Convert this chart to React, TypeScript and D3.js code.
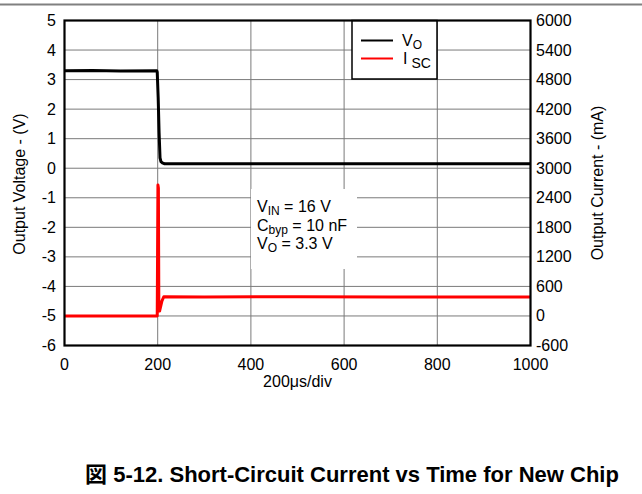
import React from "react";
import * as d3 from "d3";

const xTicks = [0, 200, 400, 600, 800, 1000];
const yLeftTicks = [5, 4, 3, 2, 1, 0, -1, -2, -3, -4, -5, -6];
const yRightTicks = [6000, 5400, 4800, 4200, 3600, 3000, 2400, 1800, 1200, 600, 0, -600];

// V_O (V) vs time (µs)
const voTime = [0, 60, 120, 198, 199, 201, 203, 205, 207, 210, 215, 300, 500, 700, 1000];
const voValue = [3.3, 3.31, 3.29, 3.3, 3.25, 2.4, 1.2, 0.35, 0.22, 0.18, 0.15, 0.15, 0.15, 0.15, 0.15];

// I_SC (mA) vs time (µs)
const iscTime = [0, 199, 200.5, 201.5, 202.5, 204, 209, 213, 300, 500, 700, 1000];
const iscValue = [0, 0, 2660, 2600, 120, 100, 300, 390, 385, 390, 385, 385];

const W = 642;
const H = 494;
const left = 64.5;
const right = 530.5;
const top = 20.5;
const bottom = 345.5;

const font = "'Liberation Sans', Arial, sans-serif";
const fs = 16;

export default function App() {
  const x = d3.scaleLinear().domain([0, 1000]).range([left, right]);
  const yL = d3.scaleLinear().domain([-6, 5]).range([bottom, top]);
  const yR = d3.scaleLinear().domain([-600, 6000]).range([bottom, top]);

  const voLine = d3
    .line<number>()
    .x((_, i) => x(voTime[i]))
    .y((d) => yL(d))(voValue) as string;
  const iscLine = d3
    .line<number>()
    .x((_, i) => x(iscTime[i]))
    .y((d) => yR(d))(iscValue) as string;

  return (
    <svg
      width={W}
      height={H}
      style={{ position: "absolute", left: 0, top: 0, background: "#fff" }}
      fontFamily={font}
    >
      <rect x={0} y={0} width={W} height={H} fill="#fff" />
      <line x1={0} x2={W} y1={4.5} y2={4.5} stroke="#808080" strokeWidth={2} />

      {/* grid */}
      {yLeftTicks.map((t) => (
        <line key={"gy" + t} x1={left} x2={right} y1={yL(t)} y2={yL(t)} stroke="#7a7a7a" strokeWidth={1} />
      ))}
      {xTicks.map((t) => (
        <line key={"gx" + t} x1={x(t)} x2={x(t)} y1={top} y2={bottom} stroke="#7a7a7a" strokeWidth={1} />
      ))}

      {/* data */}
      <path d={voLine} fill="none" stroke="#000" strokeWidth={3} strokeLinejoin="round" />
      <path d={iscLine} fill="none" stroke="#ff0000" strokeWidth={3} strokeLinejoin="round" />

      {/* annotation box */}
      <rect x={251} y={189} width={106} height={80} fill="#fff" />
      <text x={257} y={212} fontSize={fs} fill="#000">
        V<tspan fontSize={12} dy={3}>IN</tspan>
        <tspan dy={-3}> = 16 V</tspan>
      </text>
      <text x={257} y={230.5} fontSize={fs} fill="#000">
        C<tspan fontSize={12} dy={3}>byp</tspan>
        <tspan dy={-3}> = 10 nF</tspan>
      </text>
      <text x={257} y={249} fontSize={fs} fill="#000">
        V<tspan fontSize={12} dy={3}>O</tspan>
        <tspan dy={-3}> = 3.3 V</tspan>
      </text>

      {/* legend */}
      <rect x={352} y={top} width={85} height={58.5} fill="#fff" stroke="#000" strokeWidth={1.5} />
      <line x1={361} x2={393} y1={40.5} y2={40.5} stroke="#000" strokeWidth={2} />
      <line x1={361} x2={393} y1={58.5} y2={58.5} stroke="#ff0000" strokeWidth={2} />
      <text x={402} y={46} fontSize={fs} fill="#000">
        V<tspan fontSize={12} dy={3}>O</tspan>
      </text>
      <text x={403} y={64} fontSize={fs} fill="#000">
        I<tspan fontSize={14} dx={4} dy={3.5}>SC</tspan>
      </text>

      {/* frame */}
      <rect x={left} y={top} width={right - left} height={bottom - top} fill="none" stroke="#000" strokeWidth={2.2} />

      {/* left ticks */}
      {yLeftTicks.map((t) => (
        <text key={"yl" + t} x={56} y={yL(t) + 5.5} fontSize={fs} textAnchor="end" fill="#000">
          {t}
        </text>
      ))}
      {/* right ticks */}
      {yRightTicks.map((t) => (
        <text key={"yr" + t} x={536} y={yR(t) + 5.5} fontSize={fs} textAnchor="start" fill="#000">
          {t}
        </text>
      ))}
      {/* x ticks */}
      {xTicks.map((t) => (
        <text key={"xt" + t} x={x(t)} y={370} fontSize={fs} textAnchor="middle" fill="#000">
          {t}
        </text>
      ))}

      <text x={(left + right) / 2} y={387} fontSize={fs} textAnchor="middle" fill="#000">
        200μs/div
      </text>
      <text
        transform={`translate(25, ${(top + bottom) / 2 + 1}) rotate(-90)`}
        fontSize={fs}
        textAnchor="middle"
        fill="#000"
      >
        Output Voltage - (V)
      </text>
      <text
        transform={`translate(603, ${(top + bottom) / 2}) rotate(-90)`}
        fontSize={fs}
        textAnchor="middle"
        fill="#000"
      >
        Output Current - (mA)
      </text>

      <text
        x={352}
        y={482}
        fontSize={22}
        fontWeight="bold"
        textAnchor="middle"
        fill="#000"
        fontFamily="'Liberation Sans', Arial, 'Noto Sans CJK JP', sans-serif"
      >
        図 5-12. Short-Circuit Current vs Time for New Chip
      </text>
    </svg>
  );
}
